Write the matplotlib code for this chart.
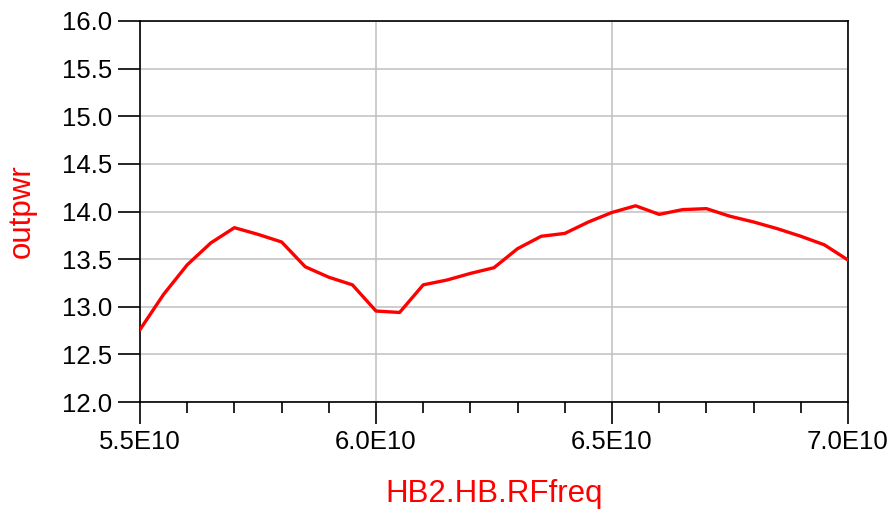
import numpy as np
import matplotlib
matplotlib.use("Agg")
import matplotlib.pyplot as plt
from matplotlib.ticker import MultipleLocator, FuncFormatter

# RF frequency sweep (Hz) and output power
rf_freq = np.array([5.50, 5.55, 5.60, 5.65, 5.70, 5.75, 5.80, 5.85, 5.90, 5.95,
                    6.00, 6.05, 6.10, 6.15, 6.20, 6.25, 6.30, 6.35, 6.40, 6.45,
                    6.50, 6.55, 6.60, 6.65, 6.70, 6.75, 6.80, 6.85, 6.90, 6.95,
                    7.00]) * 1e10
outpwr = [12.76, 13.13, 13.44, 13.67, 13.83, 13.76, 13.68, 13.42, 13.31, 13.23,
          12.955, 12.94, 13.23, 13.28, 13.35, 13.41, 13.61, 13.74, 13.77, 13.89,
          13.99, 14.06, 13.97, 14.02, 14.03, 13.95, 13.89, 13.82, 13.74, 13.65,
          13.49]

plt.rcParams['font.family'] = ['Liberation Sans', 'DejaVu Sans']

fig = plt.figure(figsize=(8.92, 5.18), dpi=100)
ax = fig.add_axes([140/892, 1-402/518, (848-140)/892, (402-21)/518])

ax.plot(rf_freq, outpwr, color='#ff0000', linewidth=2.4, zorder=3)

ax.set_xlim(5.5e10, 7.0e10)
ax.set_ylim(12.0, 16.0)
ax.xaxis.set_major_locator(MultipleLocator(0.5e10))
ax.xaxis.set_minor_locator(MultipleLocator(0.1e10))
ax.yaxis.set_major_locator(MultipleLocator(0.5))
ax.xaxis.set_major_formatter(FuncFormatter(lambda v, p: "%.1fE10" % (v/1e10)))
ax.yaxis.set_major_formatter(FuncFormatter(lambda v, p: "%.1f" % v))

ax.grid(True, which='major', color='#c0c0c0', linewidth=1.1)
ax.set_axisbelow(True)
for s in ax.spines.values():
    s.set_color('black')
    s.set_linewidth(1.2)

ax.tick_params(axis='both', which='major', direction='out', length=16, width=1.2,
               labelsize=18.5, pad=4)
ax.tick_params(axis='x', which='minor', direction='out', length=8, width=1.2)

ax.set_xlabel("HB2.HB.RFfreq", color='#ff0000', fontsize=22.5, labelpad=18)
ax.set_ylabel("outpwr", color='#ff0000', fontsize=22.5, labelpad=18)

fig.savefig("out.png", dpi=100)
